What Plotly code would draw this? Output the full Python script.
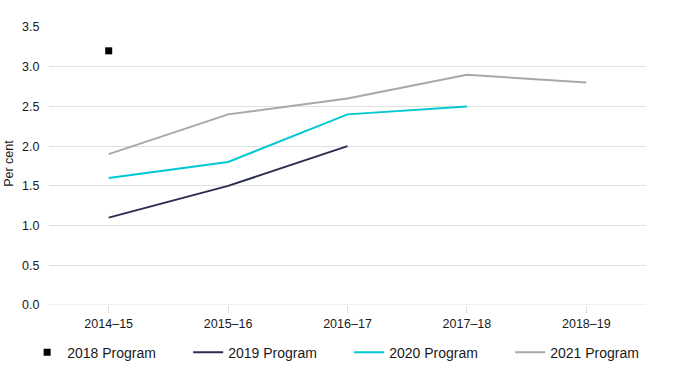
import plotly.graph_objects as go

categories = ["2014–15", "2015–16", "2016–17", "2017–18", "2018–19"]
p2018 = [3.2]
p2019 = [1.1, 1.5, 2.0]
p2020 = [1.6, 1.8, 2.4, 2.5]
p2021 = [1.9, 2.4, 2.6, 2.9, 2.8]
y_ticks = [0.0, 0.5, 1.0, 1.5, 2.0, 2.5, 3.0, 3.5]

fig = go.Figure()
fig.add_trace(go.Scatter(x=categories[:len(p2018)], y=p2018, mode="markers", name="2018 Program",
                         marker=dict(symbol="square", size=7, color="#000000")))
fig.add_trace(go.Scatter(x=categories[:len(p2019)], y=p2019, mode="lines", name="2019 Program",
                         line=dict(color="#2b2d52", width=2)))
fig.add_trace(go.Scatter(x=categories[:len(p2020)], y=p2020, mode="lines", name="2020 Program",
                         line=dict(color="#00c8d2", width=2)))
fig.add_trace(go.Scatter(x=categories[:len(p2021)], y=p2021, mode="lines", name="2021 Program",
                         line=dict(color="#a8a8a8", width=2)))

fig.update_layout(
    width=690, height=380,
    margin=dict(l=49, r=44, t=27, b=74),
    paper_bgcolor="white", plot_bgcolor="white",
    font=dict(family="Liberation Sans, Arial, sans-serif", size=12.5, color="#1a1a1a"),
    showlegend=True,
    legend=dict(orientation="h", x=-0.0366, y=-0.11, xanchor="left", yanchor="top",
                font=dict(size=14), itemwidth=30, traceorder="normal",
                entrywidth=116, entrywidthmode="pixels"),
    xaxis=dict(type="category", categoryorder="array", categoryarray=categories,
               range=[-0.5, 4.5], showgrid=False, showline=False, zeroline=False,
               ticks="outside", ticklen=7, tickcolor="#dcdcdc", tickwidth=1,
               automargin=False),
    yaxis=dict(range=[0, 3.5], tickvals=y_ticks, tickformat=".1f", showgrid=True,
               gridcolor="#e0e0e0", gridwidth=1, zeroline=False, showline=False,
               ticks="outside", ticklen=6, tickcolor="rgba(0,0,0,0)", automargin=False),
    annotations=[dict(text="Per cent", textangle=-90, xref="paper", yref="paper",
                      x=-0.066, y=0.51, xanchor="center", yanchor="middle",
                      showarrow=False, font=dict(size=12.5, color="#1a1a1a"))],
)
fig.add_shape(type="line", xref="paper", yref="y", x0=0, x1=1, y0=0, y1=0,
              line=dict(color="#e0e0e0", width=1), layer="below")
fig.write_html("out.html", config={"displayModeBar": False},
               post_script="document.body.style.margin='0';")
